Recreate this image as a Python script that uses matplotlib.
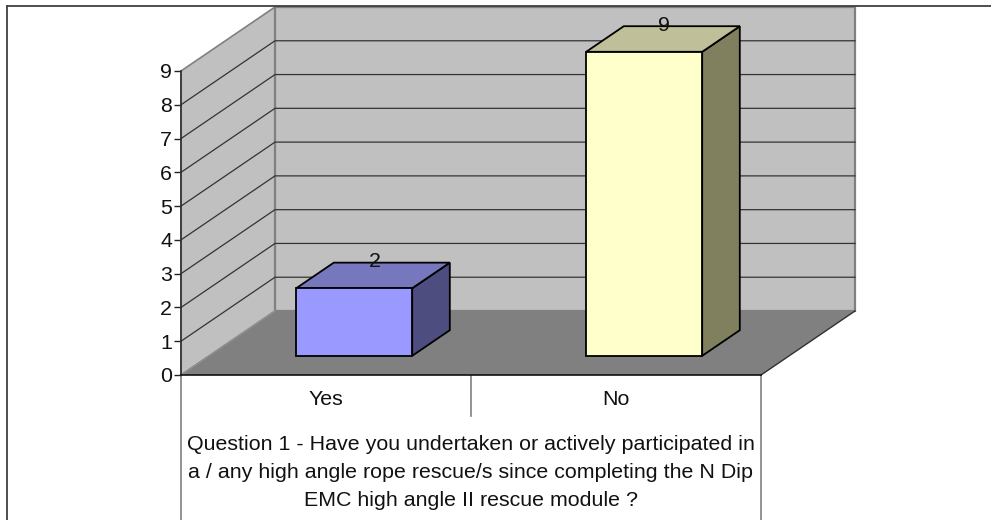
import matplotlib
matplotlib.use("Agg")
import matplotlib.pyplot as plt
from matplotlib.lines import Line2D
from matplotlib.patches import Polygon

categories = ["Yes", "No"]
responses = [2, 9]
value_ticks = list(range(0, 10))
question = ("Question 1 - Have you undertaken or actively participated in\n"
            "a / any high angle rope rescue/s since completing the N Dip\n"
            "EMC high angle II rescue module ?")

WALL = "#C0C0C0"
FLOOR = "#808080"
EDGE = "#808080"
GRID = "#333333"
BAR_FACES = [("#9999FF", "#7777BD", "#4D4D80"),
             ("#FFFFCC", "#BFBF99", "#80805F")]
FONT_SIZE = 15.4

W, H = 991, 520
plt.rcParams["font.family"] = ["Liberation Sans", "DejaVu Sans"]
fig = plt.figure(figsize=(W / 100, H / 100), dpi=100)
ax = fig.add_axes([181 / W, (H - 375) / H, 580 / W, 304 / H])
ax.set_xlim(0, len(categories))
ax.set_ylim(0, max(value_ticks))
ax.patch.set_visible(False)

# Oblique projection: full depth shifts by a fixed amount in data units.
DX = 94 / 290
DY = 64 / (304 / 9)


def proj(x, y, d=0.0):
    return x + d * DX, y + d * DY


def poly(points, face, edge="none", lw=0.0, z=1):
    ax.add_patch(Polygon([proj(*p) for p in points], closed=True, facecolor=face,
                         edgecolor=edge, linewidth=lw, clip_on=False, zorder=z,
                         joinstyle="miter"))


xmax = len(categories)
ymax = max(value_ticks)

# Walls and floor
poly([(0, 0, 0), (0, 0, 1), (0, ymax, 1), (0, ymax, 0)], WALL, EDGE, 1.2, 1)
poly([(0, 0, 1), (xmax, 0, 1), (xmax, ymax, 1), (0, ymax, 1)], WALL, EDGE, 1.6, 1)
poly([(0, 0, 0), (xmax, 0, 0), (xmax, 0, 1), (0, 0, 1)], FLOOR, "none", 0, 2)

# Gridlines along side wall and back wall
for v in value_ticks[1:-1]:
    xs, ys = zip(proj(0, v, 0), proj(0, v, 1), proj(xmax, v, 1))
    ax.plot(xs, ys, color=GRID, lw=0.9, clip_on=False, zorder=3,
            solid_joinstyle="miter")
for a, b in [((0, 0, 0), (0, 0, 1)), ((xmax, 0, 0), (xmax, 0, 1))]:
    xs, ys = zip(proj(*a), proj(*b))
    ax.plot(xs, ys, color="#303030" if a[0] else "#909090", lw=1.0,
            clip_on=False, zorder=3)

# Bars occupy the middle 40% of their category width and of the depth
D0, D1 = 0.3, 0.7
for i, val in enumerate(responses):
    x0, x1 = i + D0, i + D1
    front, top, side = BAR_FACES[i]
    kw = dict(edge="black", lw=1.3, z=5)
    poly([(x1, 0, D0), (x1, 0, D1), (x1, val, D1), (x1, val, D0)], side, **kw)
    poly([(x0, val, D0), (x1, val, D0), (x1, val, D1), (x0, val, D1)], top, **kw)
    poly([(x0, 0, D0), (x1, 0, D0), (x1, val, D0), (x0, val, D0)], front, **kw)
    ax.annotate(str(val), xy=proj(i + 0.5, val, 0.5), xytext=(1.0, 10),
                textcoords="offset points", ha="center", va="center",
                fontsize=FONT_SIZE, color="#111111", zorder=6, annotation_clip=False)

# Axes
ax.set_yticks(value_ticks)
ax.set_yticklabels([str(v) for v in value_ticks], fontsize=FONT_SIZE, color="#111111")
ax.tick_params(axis="y", length=5, width=1.0, pad=1.5, color="#222222")
ax.set_xticks([i + 0.5 for i in range(len(categories))])
ax.set_xticklabels(categories, fontsize=FONT_SIZE, color="#111111")
ax.tick_params(axis="x", length=0, pad=11)
for name in ("top", "right"):
    ax.spines[name].set_visible(False)
ax.spines["left"].set_color("#303030")
ax.spines["left"].set_linewidth(1.2)
ax.spines["left"].set_zorder(4)
ax.spines["bottom"].set_color("#111111")
ax.spines["bottom"].set_linewidth(1.2)
ax.spines["bottom"].set_zorder(4)
ax.set_xlabel(question, fontsize=FONT_SIZE, color="#111111", linespacing=1.6, labelpad=18.5)

# Category separators below the floor
sep_depths = [(0, 145 / 304), (1, 41 / 304), (2, 145 / 304)]
for x, drop in sep_depths:
    ax.plot([x, x], [0, -drop * ymax], color=EDGE, lw=1.2, clip_on=False, zorder=1)

# Chart area frame: top and left only
fig.add_artist(Line2D([7 / W, 7 / W], [0, 1 - 6 / H], color="#404040", lw=1.3))
fig.add_artist(Line2D([7 / W, 1], [1 - 6 / H, 1 - 6 / H], color="#404040", lw=1.3))

fig.savefig("out.png", dpi=100)
